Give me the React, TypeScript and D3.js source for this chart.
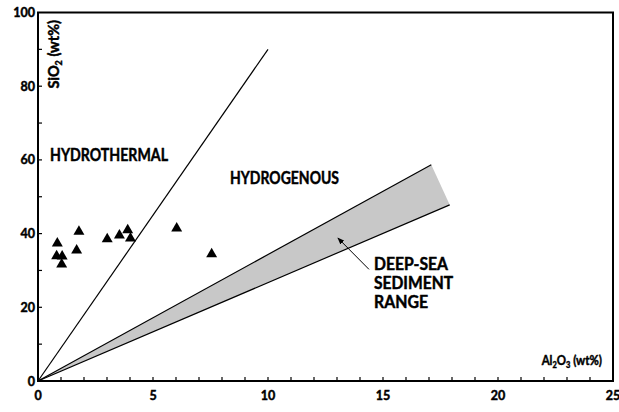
import React from "react";
import * as d3 from "d3";

const W = 619;
const H = 412;

const xTickLabels = [0, 5, 10, 15, 20, 25];
const yTickLabels = [0, 20, 40, 60, 80, 100];
const al2o3 = [0.84, 0.81, 1.05, 1.03, 1.78, 1.68, 3.01, 3.54, 3.9, 4.02, 6.03, 7.55];
const sio2 = [37.6, 34.2, 34.1, 31.9, 40.8, 35.7, 38.8, 39.8, 41.2, 39.0, 41.7, 34.7];
const hydroLineX = [0, 10];
const hydroLineY = [0, 90];
const bandUpperX = [0, 17.1];
const bandUpperY = [0, 58.7];
const bandLowerX = [0, 17.9];
const bandLowerY = [0, 47.8];
const arrowX = [14.39, 13.04];
const arrowY = [30.3, 38.8];

export default function App() {
  const x = d3.scaleLinear().domain([0, 25]).range([38, 613]);
  const y = d3.scaleLinear().domain([0, 100]).range([381, 12.5]);
  const font = "Lato, 'Open Sans', sans-serif";
  const bold = { fontFamily: font, fontWeight: 700, stroke: "#000", strokeWidth: 0.45 } as const;

  const bandPts: [number, number][] = [
    [x(bandUpperX[0]), y(bandUpperY[0])],
    [x(bandUpperX[1]), y(bandUpperY[1])],
    [x(bandLowerX[1]), y(bandLowerY[1])],
  ];
  const bandPath = d3.line()(bandPts) + "Z";
  const tri = d3.symbol().type(d3.symbolTriangle).size(52)();

  const minorX = d3.range(1, 25);
  const minorY = d3.range(10, 100, 10);

  const label = (t: string, lx: number, ly: number, len: number) => (
    <text x={lx} y={ly} {...bold} fontSize={16.5} textLength={len} lengthAdjust="spacingAndGlyphs">
      {t}
    </text>
  );

  return (
    <svg width={W} height={H} style={{ position: "absolute", left: 0, top: 0, background: "#fff" }}>
      <defs>
        <marker id="ah" viewBox="0 0 10 10" refX="9" refY="5" markerWidth="7" markerHeight="7" orient="auto">
          <path d="M0,1 L10,5 L0,9 Z" fill="#000" />
        </marker>
      </defs>
      <path d={bandPath} fill="#c8c8c8" stroke="none" />
      <line x1={x(bandUpperX[0])} y1={y(bandUpperY[0])} x2={x(bandUpperX[1])} y2={y(bandUpperY[1])} stroke="#000" strokeWidth={1.2} />
      <line x1={x(bandLowerX[0])} y1={y(bandLowerY[0])} x2={x(bandLowerX[1])} y2={y(bandLowerY[1])} stroke="#000" strokeWidth={1.2} />
      <line x1={x(hydroLineX[0])} y1={y(hydroLineY[0])} x2={x(hydroLineX[1])} y2={y(hydroLineY[1])} stroke="#000" strokeWidth={1.2} />
      <line x1={x(arrowX[0])} y1={y(arrowY[0])} x2={x(arrowX[1])} y2={y(arrowY[1])} stroke="#000" strokeWidth={1} markerEnd="url(#ah)" />

      {al2o3.map((v, i) => (
        <path key={i} d={tri!} transform={`translate(${x(v)},${y(sio2[i]) + 1})`} fill="#000" />
      ))}

      <rect x={x(0)} y={y(100)} width={x(25) - x(0)} height={y(0) - y(100)} fill="none" stroke="#000" strokeWidth={2} />

      {minorX.map((t) => (
        <line key={"mx" + t} x1={x(t)} x2={x(t)} y1={y(0)} y2={y(0) - 4} stroke="#000" strokeWidth={1.2} />
      ))}
      {minorY.map((t) => (
        <line key={"my" + t} x1={x(0)} x2={x(0) + 4} y1={y(t)} y2={y(t)} stroke="#000" strokeWidth={1.2} />
      ))}

      {xTickLabels.map((t) => (
        <text key={"xl" + t} x={x(t)} y={400} textAnchor="middle" {...bold} fontSize={12.5}>
          {t}
        </text>
      ))}
      {yTickLabels.map((t) => (
        <text key={"yl" + t} x={35} y={y(t) + 4.5} textAnchor="end" {...bold} fontSize={12.5}>
          {t}
        </text>
      ))}

      <text transform={`translate(59,20) rotate(-90)`} textAnchor="end" {...bold} fontSize={14.5}>
        SiO<tspan fontSize={9} dy={3}>2</tspan>
        <tspan dy={-3}> (wt%)</tspan>
      </text>
      <text transform={`translate(602,365) scale(0.88,1)`} textAnchor="end" {...bold} fontSize={13}>
        Al<tspan fontSize={8.5} dy={3}>2</tspan>
        <tspan dy={-3}>O</tspan>
        <tspan fontSize={8.5} dy={3}>3</tspan>
        <tspan dy={-3}> (wt%)</tspan>
      </text>

      {label("HYDROTHERMAL", 50, 161, 118)}
      {label("HYDROGENOUS", 230, 184, 109)}
      {label("DEEP-SEA", 374, 270, 74)}
      {label("SEDIMENT", 374, 289, 79)}
      {label("RANGE", 374, 308, 54)}
    </svg>
  );
}
